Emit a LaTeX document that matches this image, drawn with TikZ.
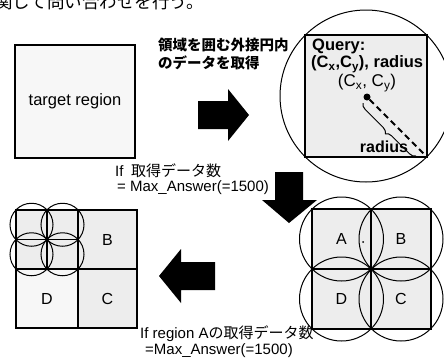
\documentclass[tikz,border=0pt]{standalone}
\usepackage{fontspec}
\setmainfont{Liberation Sans}
\newfontfamily\jp{Noto Sans CJK JP}
\usetikzlibrary{decorations.pathreplacing}
\begin{document}
\begin{tikzpicture}[x=1pt,y=-1pt,
  reg/.style={draw=black, line width=1.8pt, inner sep=0pt, minimum width=#1, minimum height=#1},
  reg/.default=59.5pt,
  circ/.style={draw=black, line width=1pt, circle, inner sep=0pt, minimum size=#1},
  blk/.style={fill=black, draw=none},
  lbl/.style={inner sep=0pt, font=\fontsize{16}{18}\selectfont},
  txt/.style={inner sep=0pt, anchor=west, font=\fontsize{15}{17}\selectfont},
  jptxt/.style={inner sep=0pt, anchor=west, font=\jp\bfseries\fontsize{14.5}{17}\selectfont},
  stip/.style={fill=gray!14},
  pale/.style={fill=gray!6}
]
\clip (0,0) rectangle (444,359);
\fill[white] (0,0) rectangle (444,359);

% clipped top line
\node[inner sep=0pt, anchor=base west, font=\jp\fontsize{17.5}{19}\selectfont] (toptext) at (-5,8) {関して問い合わせを行う。};

% target region
\node[reg, pale, minimum width=120pt, minimum height=113pt, font=\fontsize{16.5}{19}\selectfont] (target) at (75,101.5) {target region};

% caption 1
\node[jptxt] (cap1a) at (158,45) {領域を囲む外接円内};
\node[jptxt] (cap1b) at (158,63) {のデータを取得};

% right arrow
\fill[blk] (198,101) -- (228,101) -- (228,89) -- (249,115) -- (228,141) -- (228,129) -- (198,129) -- cycle;

% query region
\node[reg, stip, minimum width=122pt, minimum height=122pt] (query) at (366,96) {};
\node[circ=172pt] (qcirc) at (366,96) {};
\node[txt, font=\bfseries\fontsize{16.5}{19}\selectfont] (qlab) at (312,46) {Query:};
\node[txt, font=\bfseries\fontsize{16.5}{19}\selectfont] (qparams) at (311,64) {(C\textsubscript{x},C\textsubscript{y}), radius};
\node[inner sep=0pt, font=\fontsize{17}{19}\selectfont] (ctrlab) at (367,83) {(C\textsubscript{x}, C\textsubscript{y})};
\node[circle, fill=black, inner sep=0pt, minimum size=7pt] (ctr) at (367,97) {};
\coordinate (qcorner) at (426,156);
\draw[line width=2pt, dash pattern=on 6pt off 4pt] (ctr) -- (qcorner);
\coordinate (bs) at (416,156);
\coordinate (be) at (363,103);
\draw[decorate, decoration={brace, amplitude=6pt}, line width=1pt] (bs) -- (be);
\node[inner sep=0pt, font=\bfseries\fontsize{16}{18}\selectfont] (rlab) at (384,147) {radius};

% caption 2
\node[txt] (cap2a) at (115,171) {If\enspace{\jp 取得データ数}};
\node[txt] (cap2b) at (117,188) {= Max\_Answer(=1500)};

% down arrow
\fill[blk] (275,172) -- (303,172) -- (303,200) -- (317,200) -- (289,223) -- (262,200) -- (275,200) -- cycle;

% right split
\node[reg, stip, lbl] (rA) at (341.5,239) {A};
\node[reg, stip, lbl] (rB) at (401,239) {B};
\node[reg, stip, lbl] (rD) at (341.5,299) {D};
\node[reg, stip, lbl] (rC) at (401,299) {C};
\fill (363,242) circle (1pt);
\node[circ=84pt] (cA) at (rA) {};
\node[circ=84pt] (cB) at (rB) {};
\node[circ=84pt] (cD) at (rD) {};
\node[circ=84pt] (cC) at (rC) {};

% left arrow
\fill[blk] (215,262) -- (181,262) -- (181,249) -- (159,276) -- (181,303) -- (181,290) -- (215,290) -- cycle;

% caption 3
\node[txt] (cap3a) at (140,334) {If region A{\jp の取得データ数}};
\node[txt] (cap3b) at (145,351) {=Max\_Answer(=1500)};

% left split
\node[reg, stip, minimum width=62pt, minimum height=59pt] (lA) at (47,239.5) {};
\node[reg, stip, lbl, minimum width=59pt, minimum height=59pt] (lB) at (107.5,239.5) {B};
\node[reg, pale, lbl, minimum width=62pt, minimum height=59pt] (lD) at (47,298.5) {D};
\node[reg, stip, lbl, minimum width=59pt, minimum height=59pt] (lC) at (107.5,298.5) {C};
\draw[line width=1.8pt] (lA.north) -- (lA.south);
\draw[line width=1.8pt] (lA.west) -- (lA.east);
\node[circ=43pt] (s1) at (31.5,224.75) {};
\node[circ=43pt] (s2) at (62.5,224.75) {};
\node[circ=43pt] (s3) at (31.5,254.25) {};
\node[circ=43pt] (s4) at (62.5,254.25) {};
\end{tikzpicture}
\end{document}
